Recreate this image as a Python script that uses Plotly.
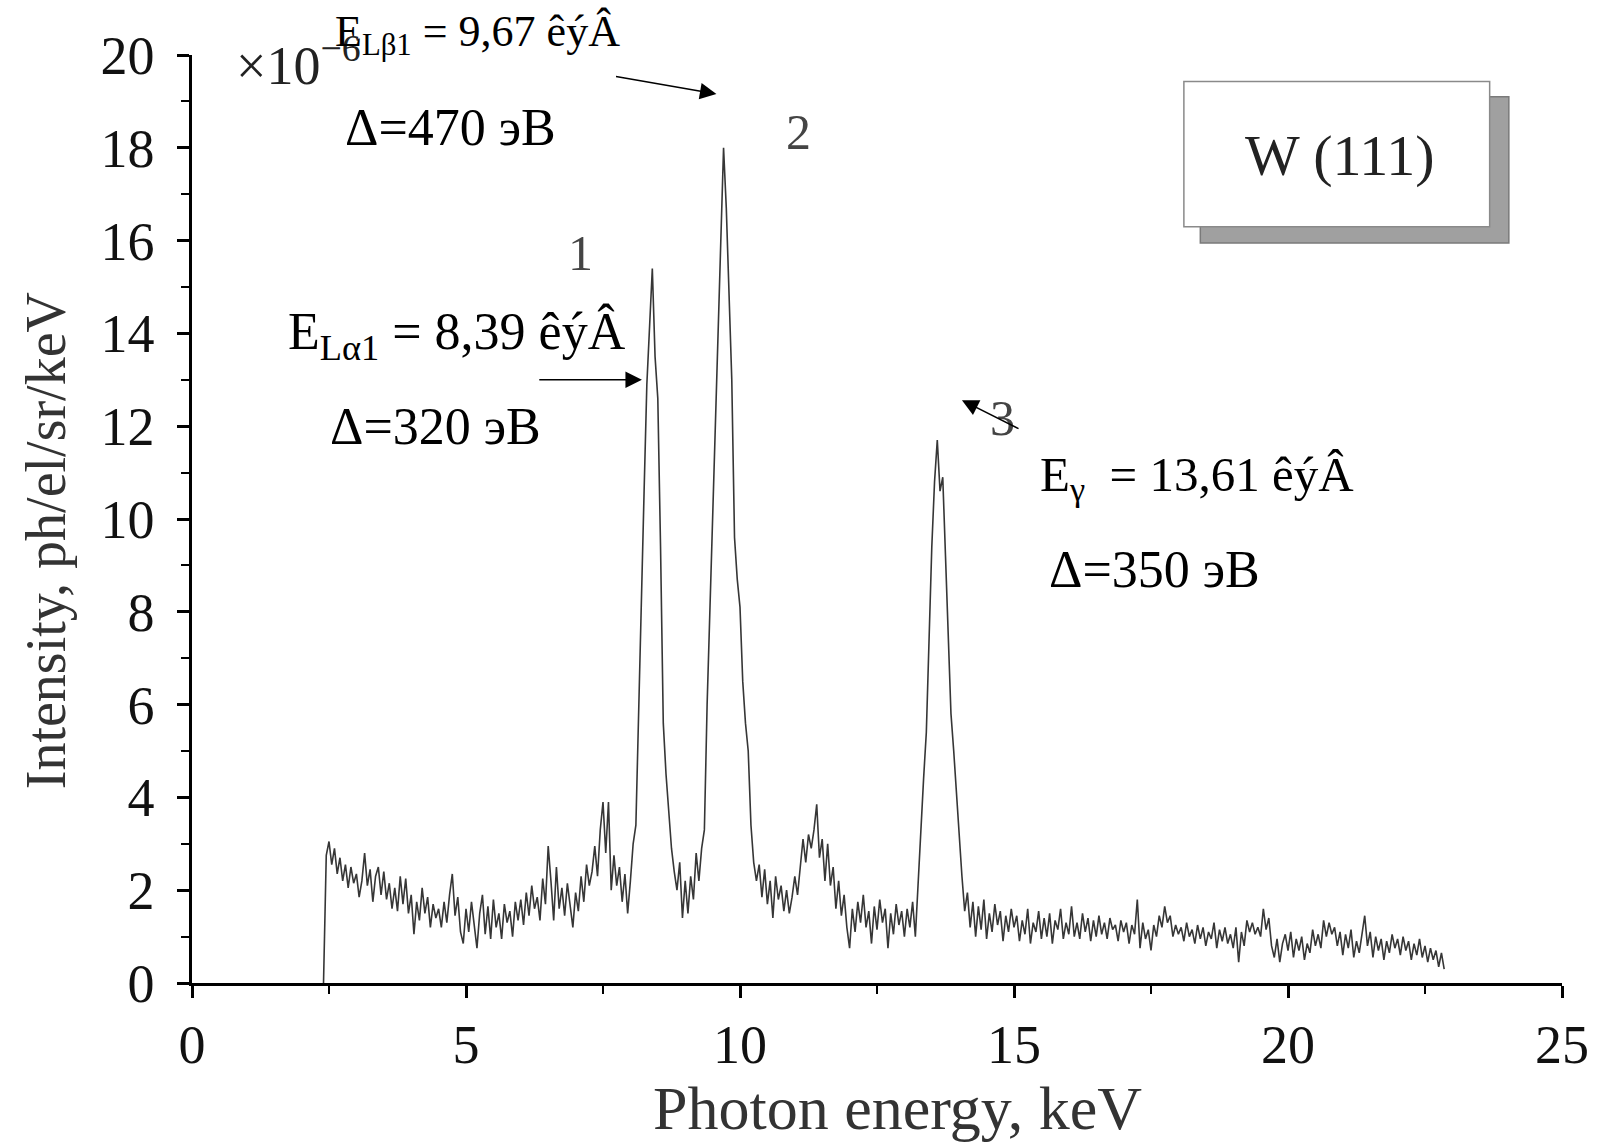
import plotly.graph_objects as go

# Photon energy grid: first sample and spacing (keV)
energy_start = 2.40
energy_step = 0.05

# Measured intensity, units of 1e-6 ph/el/sr/keV, one row per keV
intensity = [
    # 2.40 - 2.95
    0.0, 2.75, 3.05, 2.55, 2.9, 2.35, 2.7, 2.2, 2.55, 2.05, 2.5, 2.15,
    # 3.00 - 3.95
    2.35, 1.85, 2.2, 2.8, 2.1, 2.45, 1.75, 2.3, 2.5, 1.9, 2.4, 1.8, 2.15, 1.6, 2.05, 1.55, 2.3, 1.7, 2.25, 1.5,
    # 4.00 - 4.95
    1.9, 1.05, 1.75, 1.35, 2.05, 1.5, 1.85, 1.2, 1.7, 1.4, 1.6, 1.2, 1.75, 1.3, 1.9, 2.35, 1.45, 1.85, 1.1, 0.85,
    # 5.00 - 5.95
    1.6, 1.1, 1.75, 1.25, 0.75, 1.5, 1.9, 1.05, 1.65, 0.95, 1.8, 1.2, 1.5, 0.95, 1.7, 1.3, 1.55, 1.0, 1.75, 1.35,
    # 6.00 - 6.95
    1.8, 1.25, 1.95, 1.45, 2.1, 1.6, 1.85, 1.35, 2.25, 1.7, 2.95, 2.2, 1.35, 2.5, 1.6, 2.05, 1.45, 2.15, 1.6, 1.2,
    # 7.00 - 7.95
    1.95, 1.55, 2.3, 1.75, 2.55, 2.1, 2.4, 2.95, 2.3, 3.3, 3.9, 2.8, 3.9, 2.0, 2.75, 2.1, 2.5, 1.75, 2.35, 1.5,
    # 8.00 - 8.95  (L-alpha1 line)
    2.2, 3.0, 3.4, 5.6, 8.2, 10.6, 12.9, 14.2, 15.4, 13.5, 12.6, 9.4, 5.6, 4.5, 3.7, 2.9, 2.4, 2.0, 2.6, 1.4,
    # 9.00 - 9.95  (L-beta1 line)
    2.2, 1.5, 2.3, 1.8, 2.8, 2.2, 2.9, 3.3, 6.0, 8.0, 10.5, 12.5, 14.0, 16.4, 18.0, 16.7, 14.8, 13.0, 9.6, 8.7,
    # 10.00 - 10.95
    8.1, 6.5, 5.6, 5.0, 3.4, 2.6, 2.2, 2.55, 1.85, 2.45, 1.7, 2.2, 1.4, 2.3, 1.8, 2.1, 1.55, 2.0, 1.5, 1.85,
    # 11.00 - 11.95
    2.3, 1.9, 2.5, 3.1, 2.6, 3.2, 2.9, 3.3, 3.85, 2.7, 3.1, 2.2, 3.0, 2.1, 2.5, 1.6, 2.2, 1.45, 1.9, 1.2,
    # 12.00 - 12.95
    0.75, 1.6, 1.1, 1.75, 1.3, 1.9, 1.2, 1.55, 0.85, 1.65, 1.15, 1.8, 1.3, 1.6, 0.75, 1.5, 1.05, 1.7, 1.25, 1.55,
    # 13.00 - 13.95  (L-gamma line)
    1.0, 1.6, 1.2, 1.75, 1.0, 2.2, 3.3, 4.4, 5.4, 7.5, 9.4, 10.8, 11.7, 10.6, 10.9, 9.2, 7.6, 5.8, 5.0, 4.1,
    # 14.00 - 14.95
    3.1, 2.3, 1.55, 1.95, 1.2, 1.75, 1.0, 1.65, 1.15, 1.8, 0.95, 1.5, 1.1, 1.7, 1.25, 1.55, 0.9, 1.45, 1.1, 1.6,
    # 15.00 - 15.95
    1.2, 1.45, 0.9, 1.35, 1.05, 1.6, 0.85, 1.3, 1.1, 1.55, 0.95, 1.4, 1.0, 1.5, 0.85, 1.35, 1.15, 1.6, 0.95, 1.3,
    # 16.00 - 16.95
    1.05, 1.65, 1.0, 1.3, 0.95, 1.5, 1.1, 1.4, 0.9, 1.35, 1.0, 1.45, 1.05, 1.3, 0.95, 1.4, 1.15, 1.25, 0.9, 1.35,
    # 17.00 - 17.95
    1.1, 1.3, 0.85, 1.25, 1.05, 1.8, 0.75, 1.3, 0.95, 1.15, 0.7, 1.25, 1.0, 1.45, 1.2, 1.65, 1.3, 1.45, 1.0, 1.25,
    # 18.00 - 18.95
    1.05, 1.2, 0.9, 1.3, 1.0, 1.15, 0.85, 1.25, 0.95, 1.2, 0.8, 1.1, 0.95, 1.3, 0.75, 1.15, 0.9, 1.2, 0.85, 1.05,
    # 19.00 - 19.95
    0.75, 1.2, 0.45, 1.1, 0.8, 1.35, 1.1, 1.3, 1.05, 1.2, 1.0, 1.6, 1.15, 1.4, 0.8, 0.55, 0.95, 0.45, 0.85, 1.05,
    # 20.00 - 20.95
    0.7, 1.1, 0.55, 0.95, 0.7, 1.0, 0.5, 0.85, 0.65, 1.15, 0.8, 1.05, 0.75, 1.35, 1.0, 1.3, 1.05, 1.2, 0.8, 1.1,
    # 21.00 - 21.95
    0.6, 1.05, 0.75, 1.15, 0.55, 0.9, 0.65, 1.1, 1.45, 0.8, 1.1, 0.55, 1.0, 0.7, 0.95, 0.5, 0.9, 0.65, 1.05, 0.75,
    # 22.00 - 22.85
    0.95, 0.6, 1.0, 0.7, 0.9, 0.5, 0.85, 0.6, 0.95, 0.55, 0.8, 0.45, 0.75, 0.5, 0.7, 0.35, 0.65, 0.3,
]

energy = [round(energy_start + i * energy_step, 2) for i in range(len(intensity))]

# Axis ticks
x_ticks = [0, 5, 10, 15, 20, 25]
y_ticks = [0, 2, 4, 6, 8, 10, 12, 14, 16, 18, 20]

X_MAX, Y_MAX = 25, 20
SERIF = "Liberation Serif, Times New Roman, serif"

fig = go.Figure()
fig.add_trace(go.Scatter(
    x=energy, y=intensity, mode="lines",
    line=dict(color="#363636", width=1.6),
    showlegend=False, hoverinfo="skip",
))

axis_common = dict(
    showline=True, linecolor="black", linewidth=2.5,
    ticks="outside", ticklen=12, tickwidth=2.5, tickcolor="black",
    showgrid=False, zeroline=False,
    tickfont=dict(family=SERIF, size=54, color="#111"),
)
fig.update_xaxes(
    range=[0, X_MAX], tickmode="array", tickvals=x_ticks,
    minor=dict(ticks="outside", ticklen=8, tickwidth=2, dtick=2.5, tick0=0, tickcolor="black"),
    ticklabelstandoff=0,
    **axis_common,
)
fig.update_yaxes(
    range=[0, Y_MAX], tickmode="array", tickvals=y_ticks,
    minor=dict(ticks="outside", ticklen=8, tickwidth=2, dtick=1, tick0=0, tickcolor="black"),
    ticklabelstandoff=12,
    **axis_common,
)

annotations = []

def text(x, y, s, size, color="black", ref="data", **kw):
    # data-space placement; labels above the plot top go through paper space
    if ref == "paper":
        xr, yr, x, y = "paper", "paper", x / X_MAX, y / Y_MAX
    else:
        xr, yr = "x", "y"
    opts = dict(xanchor="center", yanchor="middle")
    opts.update(kw)
    annotations.append(dict(x=x, y=y, xref=xr, yref=yr, text=s, showarrow=False,
                            font=dict(family=SERIF, size=size, color=color), **opts))

def arrow(x0, y0, x1, y1):
    annotations.append(dict(x=x1, y=y1, ax=x0, ay=y0, xref="x", yref="y", axref="x", ayref="y",
                            text="", showarrow=True, arrowhead=2, arrowsize=2.2,
                            arrowwidth=1.5, arrowcolor="black", standoff=0))

# Axis multiplier
text(0.76, 19.87, "×10<sup>−6</sup>", 54, color="#222", xanchor="left")

# L-beta1 line
text(5.21, 20.45, "E<sub>Lβ1</sub> = 9,67 êýÂ", 44, ref="paper")
arrow(7.71, 19.54, 9.57, 19.16)
text(4.72, 18.44, "Δ=470 эВ", 52)
text(11.06, 18.33, "2", 50, color="#444")

# L-alpha1 line
text(7.09, 15.73, "1", 50, color="#444")
text(4.83, 13.95, "E<sub>Lα1</sub> = 8,39 êýÂ", 52)
arrow(6.31, 13.0, 8.21, 13.0)
text(4.44, 11.99, "Δ=320 эВ", 52)

# L-gamma line
text(14.79, 12.17, "3", 50, color="#444")
arrow(15.11, 11.93, 14.05, 12.56)
text(18.34, 10.9, "E<sub>γ</sub>  = 13,61 êýÂ", 49)
text(17.57, 8.91, "Δ=350 эВ", 52)

# Sample label
text(20.95, 17.84, "W (111)", 58, color="#222")

# Axis titles
annotations.append(dict(x=0.5146, y=-0.1347, xref="paper", yref="paper", text="Photon energy, keV",
                        xanchor="center", yanchor="middle", showarrow=False,
                        font=dict(family=SERIF, size=62, color="#333")))
annotations.append(dict(x=-0.1064, y=0.4763, xref="paper", yref="paper", text="Intensity, ph/el/sr/keV",
                        xanchor="center", yanchor="middle", textangle=-90, showarrow=False,
                        font=dict(family=SERIF, size=56, color="#333")))

shapes = [
    # drop shadow of the sample label box
    dict(type="rect", xref="x", yref="y", x0=18.40, y0=15.95, x1=24.03, y1=19.10,
         fillcolor="#a0a0a0", line=dict(color="#7a7a7a", width=1.5), layer="above"),
    dict(type="rect", xref="x", yref="y", x0=18.10, y0=16.30, x1=23.68, y1=19.43,
         fillcolor="white", line=dict(color="#8a8a8a", width=1.5), layer="above"),
]

fig.update_layout(
    width=1601, height=1143,
    margin=dict(l=192, r=37, t=55, b=160),
    paper_bgcolor="white", plot_bgcolor="white",
    font=dict(family=SERIF),
    annotations=annotations, shapes=shapes,
    showlegend=False,
)

fig.write_html("out.html")
